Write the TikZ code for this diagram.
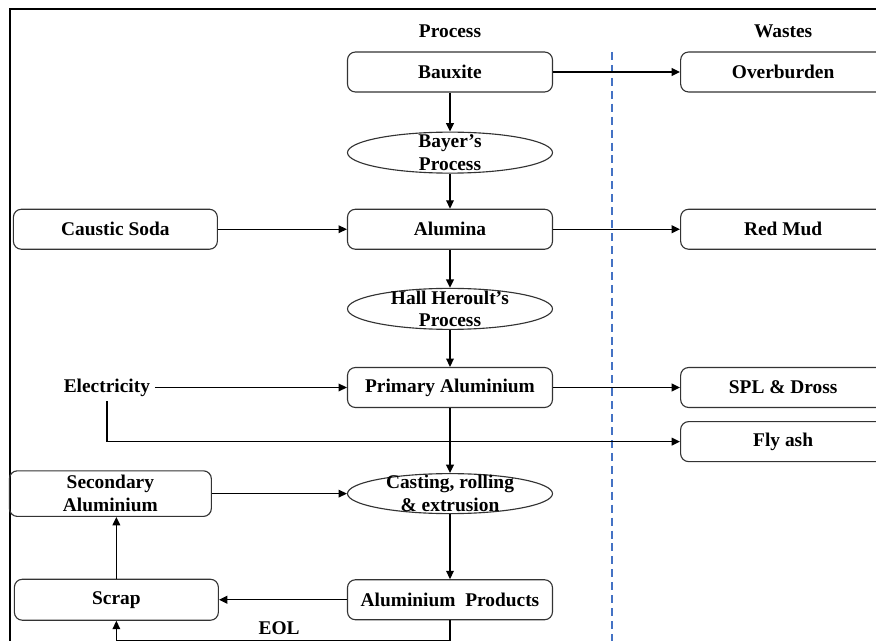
\documentclass[tikz,border=0pt]{standalone}
\usepackage{fontspec}
\setmainfont{Liberation Serif}
\usepackage{tikz}
\usetikzlibrary{%
  shapes, shapes.geometric, arrows.meta, positioning, calc
}
\usepackage{xcolor}
\definecolor{wsBlue}{HTML}{4472C4}
\newcommand{\boxfont}{\fontsize{13.8pt}{16pt}\selectfont\bfseries}
\tikzstyle{pbox} = [%
  rectangle,
  rounded corners=0.2cm,
  draw=black!80,
  line width=0.8pt,
  minimum width=5.125cm,
  minimum height=1.0cm,
  align=center,
  text centered,
  font=\boxfont
]
\tikzstyle{pell} = [%
  ellipse,
  draw=black!80,
  line width=0.8pt,
  minimum width=5.125cm,
  minimum height=1.025cm,
  inner sep=0pt
]

\begin{document}
\begin{tikzpicture}[%
  arr/.style={%
    -{Triangle[length=6pt,width=5.5pt]},
    line width=1.0pt
  },
  ltext/.style={%
    font=\boxfont,
    align=center,
    inner sep=0pt
  },
  every node/.style={%
    font=\boxfont,
    text=black
  },
  divider/.style={draw=wsBlue,line width=1.4pt,dash pattern=on 5.7pt off 3.5pt}
]
  \useasboundingbox (0,0) rectangle (21.9,-16.025);

  % Frame
  \coordinate (F1) at (0.25,-16.1);
  \coordinate (F2) at (0.25,-0.225);
  \coordinate (F3) at (22.0,-0.225);
  \draw[line width=1.4pt] (F1) -- (F2) -- (F3);

  % Process column
  \node[pbox] (Bauxite) at (11.25,-1.8) {Bauxite};
  \node[pell,below=0.975cm of Bauxite,label={[ltext]center:{Bayer's\\Process}}] (Bayer) {};
  \node[pbox,below=0.875cm of Bayer] (Alumina) {Alumina};
  \node[pell,below=0.95cm of Alumina,label={[ltext]center:{Hall Heroult's\\Process}}] (Hall) {};
  \node[pbox,below=0.925cm of Hall] (Primary) {Primary Aluminium};
  \node[pell,below=1.625cm of Primary,minimum height=1.0cm,label={[ltext]center:{Casting, rolling\\\& extrusion}}] (Casting) {};
  \node[pbox,below=1.625cm of Casting] (Products) {Aluminium\ \ Products};

  % Inputs and recycling
  \node[pbox,left=3.225cm of Alumina,minimum width=5.1cm] (Caustic) {Caustic Soda};
  \node[left=4.8cm of Primary] (Electricity) {Electricity};
  \node[pbox,left=3.375cm of Casting,minimum width=5.05cm,minimum height=1.025cm] (Secondary) {Secondary\\Aluminium};
  \node[pbox,left=3.2cm of Products,minimum width=5.1cm,minimum height=1.025cm] (Scrap) {Scrap};

  % Wastes column
  \node[pbox,right=3.175cm of Bauxite] (Overburden) {Overburden};
  \node[pbox,right=3.175cm of Alumina] (RedMud) {Red Mud};
  \node[pbox,right=3.175cm of Primary] (SPL) {SPL \& Dross};
  \node[pbox,below=0.325cm of SPL] (Flyash) {Fly ash};

  % Headers
  \node[above=0.225cm of Bauxite] (HProcess) {Process};
  \node[above=0.225cm of Overburden] (HWastes) {Wastes};

  % Divider
  \coordinate (DTop) at (15.3,-1.3);
  \coordinate (DBot) at (15.3,-16.1);
  \draw[divider] (DTop) -- (DBot);

  % Main chain
  \draw[arr] (Bauxite) -- (Bayer);
  \draw[arr] (Bayer) -- (Alumina);
  \draw[arr] (Alumina) -- (Hall);
  \draw[arr] (Hall) -- (Primary);
  \draw[arr] (Primary) -- (Casting);
  \draw[arr] (Casting) -- (Products);

  % Inputs
  \draw[arr] (Caustic) -- (Alumina);
  \draw[arr] (Electricity) -- (Primary);
  \draw[arr] (Electricity) |- (Flyash);

  % Wastes
  \draw[arr] (Bauxite) -- (Overburden);
  \draw[arr] (Alumina) -- (RedMud);
  \draw[arr] (Primary) -- (SPL);

  % Recycling loop
  \draw[arr] (Products) -- (Scrap);
  \draw[arr] (Scrap) -- (Scrap |- Secondary.south);
  \draw[arr] (Secondary) -- (Casting);
  \draw[arr] (Products.south) -- ++(0,-0.5) -| node[pos=0.256,above] (EOL) {EOL} (Scrap.south);

\end{tikzpicture}
\end{document}
